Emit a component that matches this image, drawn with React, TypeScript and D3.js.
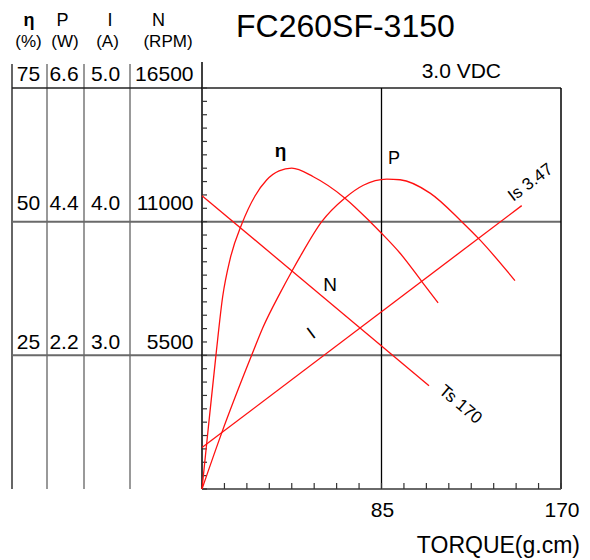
import React, { useEffect } from "react";
import * as d3 from "d3";

// ---- data ----
const effTorque = [0, 3.0, 6.6, 9.8, 13.3, 18.8, 25.1, 30.6, 36.5, 42.5, 52.7, 67.7, 79.6, 85.1, 93.8, 104.1, 111.8];
const effValue = [0, 11.5, 25.0, 36.0, 43.0, 49.5, 54.8, 57.8, 59.5, 60.0, 58.4, 54.4, 50.0, 47.8, 44.1, 38.8, 34.8];

const powTorque = [0, 9.3, 23.5, 29.0, 36.9, 42.5, 46.4, 56.7, 67.7, 76.4, 87.5, 93.8, 108.0, 123.0, 131.6, 148.2];
const powValue = [0, 0.92, 2.2, 2.67, 3.22, 3.58, 3.82, 4.4, 4.79, 5.0, 5.1, 5.09, 4.87, 4.4, 4.1, 3.43];

const curTorque = [0, 151.4];
const curValue = [2.31, 4.12];

const spdTorque = [0, 107.5];
const spdValue = [12070, 4250];

const colHeaders = ["η", "P", "I", "N"];
const colUnits = ["(%)", "(W)", "(A)", "(RPM)"];
const effTicks = ["75", "50", "25"];
const powTicks = ["6.6", "4.4", "2.2"];
const curTicks = ["5.0", "4.0", "3.0"];
const spdTicks = ["16500", "11000", "5500"];
const levelPct = [75, 50, 25];
const torqueLabels = [85, 170];

const title = "FC260SF-3150";
const voltage = "3.0 VDC";
const xTitle = "TORQUE(g.cm)";
const stallCurrent = "Is 3.47";
const stallTorque = "Ts 170";

const FONT = "'Liberation Sans', Arial, sans-serif";

export default function App() {
  useEffect(() => {
    document.body.style.margin = "0";
  }, []);

  const W = 590, H = 560;
  const x0 = 202, x1 = 561, yBot = 489, yTop = 88;
  const x = d3.scaleLinear().domain([0, 170]).range([x0, x1]);
  const yPct = d3.scaleLinear().domain([0, 75]).range([yBot, yTop]);
  const yP = d3.scaleLinear().domain([0, 6.6]).range([yBot, yTop]);
  const yI = d3.scaleLinear().domain([2, 5]).range([yBot, yTop]);
  const yN = d3.scaleLinear().domain([0, 16500]).range([yBot, yTop]);

  const mk = (ts: number[], vs: number[], ys: any) =>
    d3.line<number>().x((_, i) => x(ts[i])).y((v) => ys(v)).curve(d3.curveMonotoneX)(vs) || "";

  const effPath = mk(effTorque, effValue, yPct);
  const powPath = mk(powTorque, powValue, yP);
  const curPath = mk(curTorque, curValue, yI);
  const spdPath = mk(spdTorque, spdValue, yN);

  const colLines = [12, 47, 84, 130];
  const headerX = [29, 62.5, 110, 158.5];
  const unitX = [28.5, 65, 107.5, 168];
  const valX = [28.5, 64, 105.5];
  const rowBase = [81, 210, 349];

  const yMinor = d3.range(0, 31).map((i) => i * 2.5);
  const xMinor = d3.range(0, 17).map((i) => (i * 170) / 16);

  const red = "#ff1010";

  return (
    <svg width={W} height={H} style={{ display: "block", background: "#fff" }} fontFamily={FONT}>
      <rect width={W} height={H} fill="#fff" />
      {/* title */}
      <text x={236} y={36.5} fontSize={32} fill="#000">{title}</text>
      <text x={501} y={78} fontSize={21} textAnchor="end" fill="#000">{voltage}</text>

      {/* column headers */}
      {colHeaders.map((h, i) => (
        <text key={"h" + i} x={headerX[i]} y={26} fontSize={18} textAnchor="middle"
          fontWeight={i === 0 ? "bold" : "normal"} fill="#000">{h}</text>
      ))}
      {colUnits.map((u, i) => (
        <text key={"u" + i} x={unitX[i]} y={47} fontSize={17} textAnchor="middle" fill="#000">{u}</text>
      ))}

      {/* table column lines */}
      {colLines.map((cx, i) => (
        <line key={"c" + i} x1={cx} x2={cx} y1={64} y2={yBot} stroke={i === 0 ? "#333" : "#777"} strokeWidth={1.5} />
      ))}

      {/* horizontal level lines */}
      {levelPct.map((p, i) => (
        <line key={"l" + i} x1={12} x2={x1} y1={yPct(p)} y2={yPct(p)}
          stroke={i === 0 ? "#222" : "#6a6a6a"} strokeWidth={i === 0 ? 1.3 : 2} />
      ))}

      {/* tick labels of the left scales */}
      {levelPct.map((p, r) => (
        <g key={"r" + r} fontSize={21} fill="#000">
          <text x={valX[0]} y={rowBase[r]} textAnchor="middle">{effTicks[r]}</text>
          <text x={valX[1]} y={rowBase[r]} textAnchor="middle">{powTicks[r]}</text>
          <text x={valX[2]} y={rowBase[r]} textAnchor="middle">{curTicks[r]}</text>
          <text x={193.5} y={rowBase[r]} textAnchor="end">{spdTicks[r]}</text>
        </g>
      ))}

      {/* plot frame */}
      <line x1={x0} x2={x0} y1={62} y2={yBot} stroke="#000" strokeWidth={1.5} />
      <line x1={x1} x2={x1} y1={yTop} y2={yBot} stroke="#000" strokeWidth={1.5} />
      <line x1={x(85)} x2={x(85)} y1={yTop} y2={yBot} stroke="#000" strokeWidth={1.3} />
      <line x1={x0} x2={x1} y1={yBot} y2={yBot} stroke="#6a6a6a" strokeWidth={2} />

      {/* minor ticks */}
      {yMinor.map((v, i) => (
        <line key={"ym" + i} x1={x0} x2={x0 + 5} y1={yPct(v)} y2={yPct(v)} stroke="#333" strokeWidth={1.2} />
      ))}
      {xMinor.map((v, i) => (
        <line key={"xm" + i} x1={x(v)} x2={x(v)} y1={yBot} y2={yBot - 6} stroke="#333" strokeWidth={1.2} />
      ))}

      {/* x labels */}
      {torqueLabels.map((t, i) => (
        <text key={"xt" + i} x={x(t) + 1} y={517} fontSize={21} textAnchor="middle" fill="#000">{t}</text>
      ))}
      <text x={580} y={553} fontSize={23} textAnchor="end" fill="#000">{xTitle}</text>

      {/* curves */}
      <g fill="none" stroke={red} strokeWidth={1.3}>
        <path d={effPath} />
        <path d={powPath} />
        <path d={curPath} />
        <path d={spdPath} />
      </g>

      {/* curve labels */}
      <text x={280.5} y={157} fontSize={19} fontWeight="bold" textAnchor="middle" fill="#000">η</text>
      <text x={394} y={164} fontSize={18} textAnchor="middle" fill="#000">P</text>
      <text x={330} y={290.5} fontSize={19} textAnchor="middle" fill="#000">N</text>
      <text transform="translate(311,333) rotate(-37)" fontSize={18} textAnchor="middle" dy="0.35em" fill="#000">I</text>
      <text transform="translate(530,182) rotate(-37)" fontSize={17} textAnchor="middle" dy="0.35em" fill="#000">{stallCurrent}</text>
      <text transform="translate(461,404) rotate(40)" fontSize={17} textAnchor="middle" dy="0.35em" fill="#000">{stallTorque}</text>
    </svg>
  );
}
